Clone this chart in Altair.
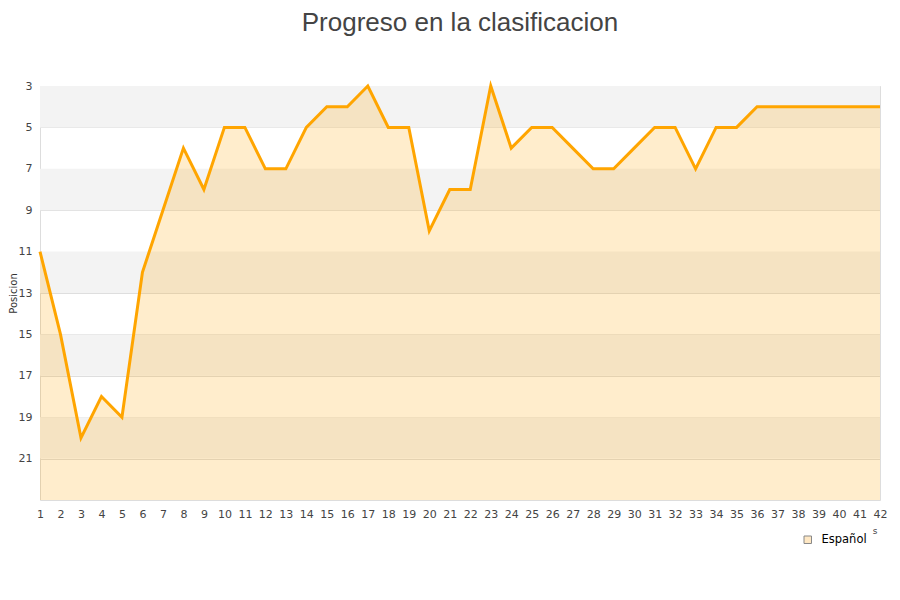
import altair as alt
import pandas as pd

jornadas = list(range(1, 43))
posiciones = [11, 15, 20, 18, 19, 12, 9, 6, 8, 5, 5, 7, 7, 5, 4, 4, 3, 5, 5, 10,
              8, 8, 3, 6, 5, 5, 6, 7, 7, 6, 5, 5, 7, 5, 5, 4, 4, 4, 4, 4, 4, 4]
serie = "Español"
y_ticks = [3, 5, 7, 9, 11, 13, 15, 17, 19, 21]
band_start = [3, 7, 11, 15, 19]
band_end = [5, 9, 13, 17, 21]

df = pd.DataFrame({"jornada": jornadas, "pos": posiciones, "serie": serie})
bands = pd.DataFrame({"y0": band_start, "y1": band_end})

xscale = alt.Scale(domain=[1, 42], nice=False, zero=False)
yscale = alt.Scale(domain=[3, 23], reverse=True, nice=False, zero=False)

xaxis = alt.Axis(values=jornadas, title=None, ticks=False, domain=False, grid=False,
                 labelFont="DejaVu Sans", labelFontSize=11, labelColor="#444",
                 labelPadding=8, labelFlush=False, labelOverlap=False)
yaxis = alt.Axis(values=y_ticks, title="Posicion", ticks=False, domain=False,
                 grid=True, gridColor="#dedede", gridWidth=1,
                 labelFont="DejaVu Sans", labelFontSize=11, labelColor="#444",
                 labelPadding=8, titleFont="DejaVu Sans", titleFontSize=10,
                 titleFontWeight="normal", titleColor="#333", titlePadding=0,
                 titleX=-24, titleY=207, titleAngle=270, titleAlign="center",
                 titleBaseline="alphabetic")

band_layer = alt.Chart(bands).mark_rect(color="#f3f3f3").encode(
    x=alt.XDatum(1, scale=xscale, axis=xaxis),
    x2=alt.datum(42),
    y=alt.Y("y0:Q", scale=yscale, axis=yaxis),
    y2="y1:Q",
)

area = alt.Chart(df).mark_area(opacity=0.2, color="#ffa500").encode(
    x=alt.X("jornada:Q", scale=xscale, axis=xaxis),
    y=alt.Y("pos:Q", scale=yscale, axis=yaxis),
    y2=alt.datum(23),
)

line = alt.Chart(df).mark_line(color="#ffa500", strokeWidth=3).encode(
    x=alt.X("jornada:Q", scale=xscale, axis=xaxis),
    y=alt.Y("pos:Q", scale=yscale, axis=yaxis),
)

legend_layer = alt.Chart(df).mark_square(size=0, filled=True, stroke="#888",
                                         strokeWidth=1, opacity=1).encode(
    x=alt.X("jornada:Q", scale=xscale, axis=xaxis),
    y=alt.Y("pos:Q", scale=yscale, axis=yaxis),
    fill=alt.Fill("serie:N", scale=alt.Scale(domain=[serie], range=["#ffe8c4"]),
                  legend=alt.Legend(orient="none", legendX=762, legendY=448,
                                    title=None, symbolType="square", symbolSize=56,
                                    symbolStrokeColor="#888", symbolStrokeWidth=1,
                                    symbolOpacity=1, labelFont="DejaVu Sans",
                                    labelFontSize=11.5, labelColor="#000",
                                    labelOffset=8, padding=0)),
)

note = alt.Chart(df.head(1)).mark_text(text="s", fontSize=9, font="DejaVu Sans",
                                       color="#444").encode(
    x=alt.value(835), y=alt.value(445),
)

chart = alt.layer(band_layer, area, line, legend_layer, note).properties(
    width=840,
    height=414,
    autosize=alt.AutoSizeParams(type="none"),
    padding={"left": 32, "top": 78, "right": 12, "bottom": 92},
    title=alt.TitleParams("Progreso en la clasificacion", font="Liberation Sans",
                          fontSize=26, fontWeight="normal", color="#444",
                          anchor="middle", offset=44),
).configure_view(stroke="#dddddd", strokeWidth=1
).configure_axisX(labelOverlap=False)

chart.save("out.html", embed_options={"renderer": "svg", "actions": False})
